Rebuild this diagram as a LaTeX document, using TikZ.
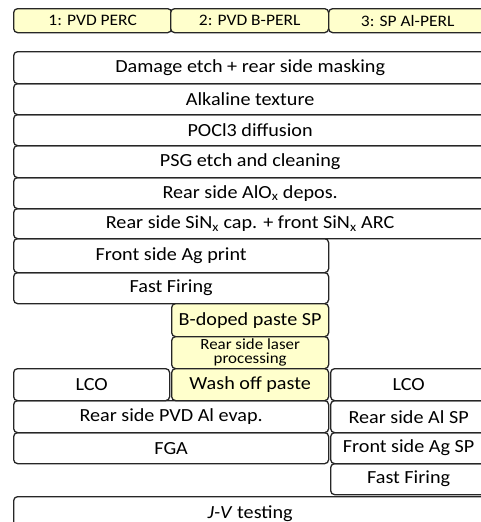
\documentclass[tikz,border=0pt]{standalone}
\usepackage{fontspec}
\setmainfont{Carlito}[FakeStretch=1.09]
\usetikzlibrary{positioning}
\definecolor{pasteyellow}{RGB}{255,255,204}
\tikzstyle{stepbox} = [rectangle, rounded corners=4pt, draw=black!85, line width=1.3pt, anchor=north west, inner sep=0pt, text centered, align=center, font=\fontsize{18.5}{20}\selectfont]
\tikzstyle{routebox} = [stepbox, fill=pasteyellow, minimum width=158pt, minimum height=24pt, font=\fontsize{16}{18}\selectfont]
\tikzstyle{pastebox} = [stepbox, fill=pasteyellow, minimum width=157pt, minimum height=32pt]
\tikzstyle{fullrow} = [stepbox, minimum width=473pt, minimum height=31pt]
\tikzstyle{leftrow} = [stepbox, minimum width=315pt, minimum height=31pt]
\tikzstyle{rightrow} = [stepbox, minimum width=156pt, minimum height=31pt]

\begin{document}
\begin{tikzpicture}[x=1pt, y=-1pt]
\useasboundingbox (0,0) rectangle (481,522);
\clip (0,0) rectangle (481,522);

% Routes
\node (hdrperc) [routebox] at (13,8) {1: PVD PERC};
\node (hdrbperl) [routebox] at (170,8) {2: PVD B-PERL};
\node (hdralperl) [routebox] at (328,8) {3: SP Al-PERL};

% Common steps
\node (dmgetch) [fullrow, minimum height=32pt] at (13,51) {Damage etch + rear side masking};
\node (texture) [fullrow] at (13,83) {Alkaline texture};
\node (pocl) [fullrow] at (13,114) {POCl3 diffusion};
\node (psgetch) [fullrow, minimum height=32pt] at (13,145) {PSG etch and cleaning};
\node (aloxdep) [fullrow] at (13,177) {Rear side AlO\textsubscript{x} depos.};
\node (sinxcap) [fullrow, minimum height=30pt] at (13,208) {Rear side SiN\textsubscript{x} cap. + front SiN\textsubscript{x} ARC};

% PVD routes
\node (agprint) [leftrow, minimum height=34pt] at (13,238) {Front side Ag print};
\node (firing) [leftrow] at (13,272) {Fast Firing};
\node (bpaste) [pastebox, minimum height=33pt] at (171,303) {B-doped paste SP};
\node (laser) [pastebox, font=\fontsize{15.5}{14}\selectfont] at (171,336) {Rear side laser\\processing};
\node (lcoa) [stepbox, minimum width=156pt, minimum height=32pt] at (13,368) {LCO};
\node (washoff) [pastebox] at (171,368) {Wash off paste};
\node (pvdal) [leftrow, minimum height=32pt] at (13,400) {Rear side PVD Al evap.};
\node (fga) [leftrow] at (13,432) {FGA};

% SP route
\node (lcob) [rightrow, minimum height=32pt] at (330,368) {LCO};
\node (alsp) [rightrow, minimum height=32pt] at (330,400) {Rear side Al SP};
\node (agsp) [rightrow] at (330,432) {Front side Ag SP};
\node (firingsp) [rightrow] at (330,463) {Fast Firing};

% End
\node (jvtest) [fullrow, minimum height=34pt] at (13,496) {\textit{J-V} testing};

\end{tikzpicture}
\end{document}
